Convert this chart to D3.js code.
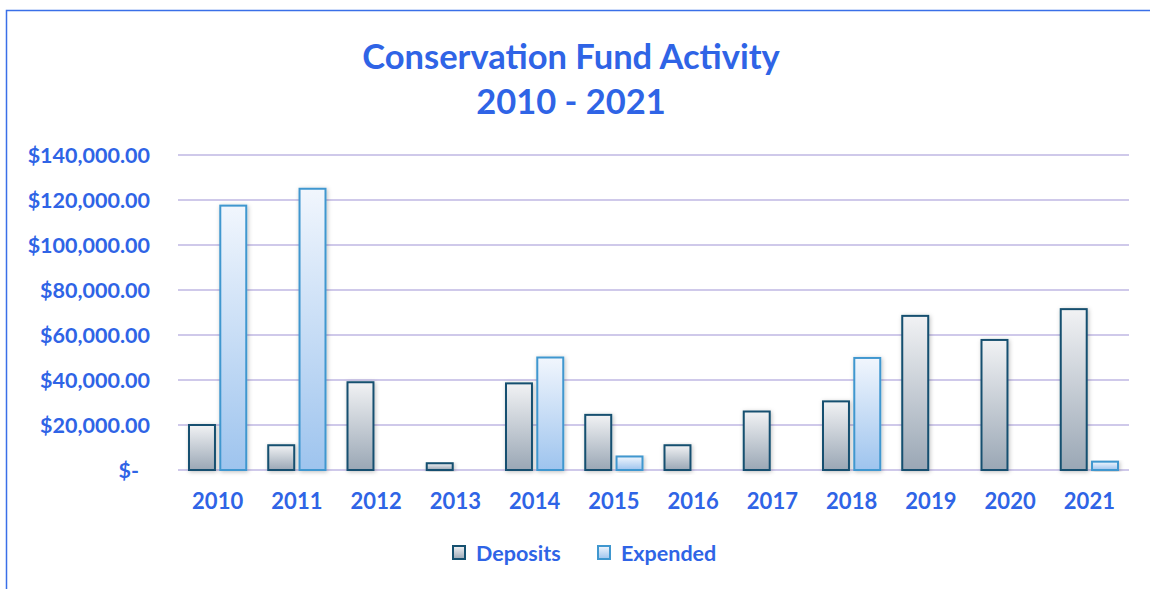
<!DOCTYPE html>
<html>
	<head>
		<meta charset="utf-8"/>
		<script type="text/javascript" src="https://cdn.jsdelivr.net/npm/d3@7/dist/d3.min.js"></script>
		<style>
			body {
				margin:0;
				background:#fff;
			}
			svg text {
				font-family:Lato, "Open Sans", sans-serif;
				font-weight:bold;
				fill:#2f64e6;
			}
			.title {
				font-size:34.5px;
				text-anchor:middle;
			}
			.axis text {
				font-size:21.5px;
			}
			.xaxis text {
				font-size:22px;
			}
			.legend text {
				font-size:21.5px;
			}
		</style>
	</head>
	<body>
		<script>
			var years = ["2010", "2011", "2012", "2013", "2014", "2015", "2016", "2017", "2018", "2019", "2020", "2021"];
			var deposits = [20000, 11000, 39000, 3000, 38500, 24500, 11000, 26000, 30500, 68500, 57800, 71500];
			var expended = [117500, 125000, 0, 0, 50000, 6000, 0, 0, 49800, 0, 0, 3700];
			var series = ["Deposits", "Expended"];
			var y_ticks = [0, 20000, 40000, 60000, 80000, 100000, 120000, 140000];

			var width = 1150;
			var height = 589;
			var plot_left = 178;
			var plot_right = 1129;
			var plot_top = 155;
			var plot_bottom = 470;

			var svg = d3.select("body").append("svg")
				.attr("width", width)
				.attr("height", height);

			// gradients for the two series
			var defs = svg.append("defs");
			var grads = [
				{id:"g_dep", top:"#f1f2f4", bottom:"#9aa7b5"},
				{id:"g_exp", top:"#f1f6fd", bottom:"#9ec4ee"}
			];
			grads.forEach(function(g) {
				var lg = defs.append("linearGradient")
					.attr("id", g.id)
					.attr("x1", 0).attr("y1", 0)
					.attr("x2", 0).attr("y2", 1);
				lg.append("stop").attr("offset", "0%").attr("stop-color", g.top);
				lg.append("stop").attr("offset", "100%").attr("stop-color", g.bottom);
			});
			var shadow = defs.append("filter")
				.attr("id", "shadow")
				.attr("x", "-30%").attr("y", "-10%")
				.attr("width", "160%").attr("height", "130%");
			shadow.append("feDropShadow")
				.attr("dx", 1).attr("dy", 1)
				.attr("stdDeviation", 2)
				.attr("flood-color", "#000")
				.attr("flood-opacity", 0.25);

			var fills = {"Deposits":"url(#g_dep)", "Expended":"url(#g_exp)"};
			var strokes = {"Deposits":"#15506f", "Expended":"#3f97cf"};

			// frame
			svg.append("path")
				.attr("d", "M6.5," + height + "V10.5H" + width)
				.attr("fill", "none")
				.attr("stroke", "#3a6fe8")
				.attr("stroke-width", 1.5);

			// title
			svg.append("text").attr("class", "title")
				.attr("x", 571).attr("y", 69)
				.text("Conservation Fund Activity");
			svg.append("text").attr("class", "title")
				.attr("x", 571).attr("y", 114)
				.text("2010 - 2021");

			var x0 = d3.scaleBand()
				.domain(years)
				.range([plot_left, plot_right]);
			var x1 = d3.scaleBand()
				.domain(series)
				.range([11, x0.bandwidth() - 11])
				.paddingInner(0.17);
			var y = d3.scaleLinear()
				.domain([0, 140000])
				.range([plot_bottom, plot_top]);

			// gridlines
			svg.append("g")
				.selectAll("line")
				.data(y_ticks)
				.enter().append("line")
				.attr("x1", plot_left)
				.attr("x2", plot_right)
				.attr("y1", function(d) { return y(d); })
				.attr("y2", function(d) { return y(d); })
				.attr("stroke", "#cfc9ea")
				.attr("stroke-width", 2);

			// y axis labels
			var fmt = d3.format("$,.2f");
			var yAxis = d3.axisLeft(y)
				.tickValues(y_ticks)
				.tickSize(0)
				.tickPadding(28)
				.tickFormat(function(d) { return d === 0 ? "$-" : fmt(d); });
			var gy = svg.append("g")
				.attr("class", "axis")
				.attr("transform", "translate(" + plot_left + ",0)")
				.call(yAxis);
			gy.select(".domain").remove();
			gy.selectAll("text")
				.attr("dy", "0.35em")
				.attr("dx", function(d) { return d === 0 ? -11 : 0; });

			// x axis labels
			var xAxis = d3.axisBottom(x0).tickSize(0).tickPadding(23);
			var gx = svg.append("g")
				.attr("class", "axis xaxis")
				.attr("transform", "translate(0," + plot_bottom + ")")
				.call(xAxis);
			gx.select(".domain").remove();

			// bars
			var rows = years.map(function(yr, i) {
				return {year:yr, values:[
					{key:"Deposits", value:deposits[i]},
					{key:"Expended", value:expended[i]}
				]};
			});
			svg.append("g")
				.selectAll("g")
				.data(rows)
				.enter().append("g")
				.attr("transform", function(d) { return "translate(" + x0(d.year) + ",0)"; })
				.selectAll("rect")
				.data(function(d) { return d.values.filter(function(v) { return v.value > 0; }); })
				.enter().append("rect")
				.attr("x", function(d) { return x1(d.key); })
				.attr("width", x1.bandwidth())
				.attr("y", function(d) { return y(d.value); })
				.attr("height", function(d) { return y(0) - y(d.value); })
				.attr("fill", function(d) { return fills[d.key]; })
				.attr("stroke", function(d) { return strokes[d.key]; })
				.attr("stroke-width", 2)
				.attr("filter", "url(#shadow)");

			// legend
			var legend_items = [
				{key:"Deposits", x:453},
				{key:"Expended", x:598}
			];
			var lg = svg.append("g").attr("class", "legend");
			var li = lg.selectAll("g")
				.data(legend_items)
				.enter().append("g")
				.attr("transform", function(d) { return "translate(" + d.x + ",546)"; });
			li.append("rect")
				.attr("width", 12).attr("height", 13)
				.attr("fill", function(d) { return fills[d.key]; })
				.attr("stroke", function(d) { return strokes[d.key]; })
				.attr("stroke-width", 2);
			li.append("text")
				.attr("x", 23).attr("y", 7)
				.attr("dy", "0.35em")
				.text(function(d) { return d.key; });
		</script>
	</body>
</html>
